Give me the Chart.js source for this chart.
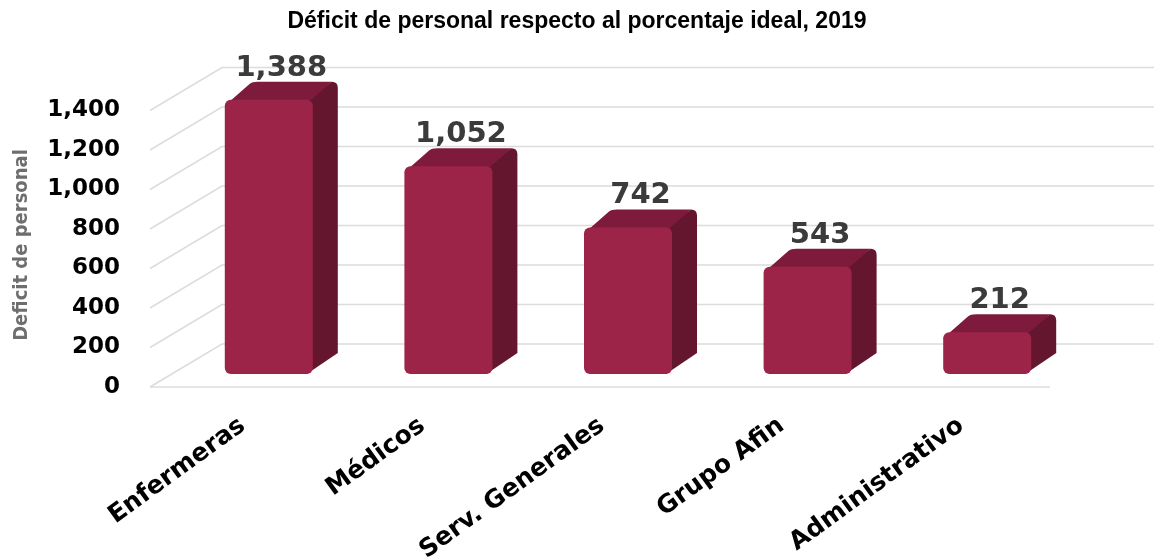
<!DOCTYPE html>
<html>
<head>
<meta charset="utf-8">
<script src="https://cdn.jsdelivr.net/npm/chart.js@4"></script>
<style>
  html, body { margin: 0; padding: 0; background: #fff; }
  #wrap { width: 1154px; height: 558px; }
</style>
</head>
<body>
<div id="wrap"><canvas id="c" width="1154" height="558"></canvas></div>
<script>
// values
const categories = ['Enfermeras', 'Médicos', 'Serv. Generales', 'Grupo Afin', 'Administrativo'];
const deficit = [1388, 1052, 742, 543, 212];
const yTicks = [0, 200, 400, 600, 800, 1000, 1200, 1400];

const FRONT = '#9d2449';
const TOP = '#7e1b3d';
const SIDE = '#64162f';
const DX = 25, DY = -18;      // fake depth of the 3d bars
const LABEL_SHIFT = 13;       // tick labels sit in front of the bars

const fmt = (v) => v.toLocaleString('en-US');

// slanted floor/back grid, drawn from the y scale
const grid3d = {
  id: 'grid3d',
  beforeDatasetsDraw(chart) {
    const { ctx } = chart;
    const y = chart.scales.y;
    ctx.save();
    ctx.strokeStyle = '#dcdcdc';
    ctx.lineWidth = 1.5;
    yTicks.forEach((v) => {
      const yf = y.getPixelForValue(v) + LABEL_SHIFT;
      ctx.beginPath();
      ctx.moveTo(150, yf);
      ctx.lineTo(222, yf - 43);
      ctx.lineTo(chart.width, yf - 43);
      ctx.stroke();
    });
    const y0 = y.getPixelForValue(0) + LABEL_SHIFT;
    ctx.beginPath();
    ctx.moveTo(150, y0);
    ctx.lineTo(1050, y0);
    ctx.stroke();
    ctx.restore();
  }
};

// side + top faces behind the front face, value labels on top
const bars3d = {
  id: 'bars3d',
  beforeDatasetsDraw(chart) {
    const { ctx } = chart;
    const meta = chart.getDatasetMeta(0);
    ctx.save();
    meta.data.forEach((bar) => {
      const l = bar.x - bar.width / 2;
      const r = bar.x + bar.width / 2;
      const t = bar.y;
      const b = bar.base;
      ctx.fillStyle = SIDE;
      ctx.beginPath();
      ctx.moveTo(r - 6, t);
      ctx.lineTo(r + DX - 6, t + DY);
      ctx.quadraticCurveTo(r + DX, t + DY, r + DX, t + DY + 6);
      ctx.lineTo(r + DX, b + DY - 3);
      ctx.lineTo(r - 6, b);
      ctx.closePath();
      ctx.fill();
      ctx.fillStyle = TOP;
      ctx.beginPath();
      ctx.moveTo(l, t + 6);
      ctx.lineTo(l + DX, t + DY + 2);
      ctx.quadraticCurveTo(l + DX + 2, t + DY, l + DX + 8, t + DY);
      ctx.lineTo(r + DX - 6, t + DY);
      ctx.lineTo(r - 4, t + 2);
      ctx.lineTo(r - 6, t + 8);
      ctx.closePath();
      ctx.fill();
    });
    ctx.restore();
  },
  afterDatasetsDraw(chart) {
    const { ctx } = chart;
    const meta = chart.getDatasetMeta(0);
    ctx.save();
    ctx.fillStyle = '#3b3b3b';
    ctx.font = 'bold 29px "DejaVu Sans"';
    ctx.textAlign = 'center';
    ctx.textBaseline = 'alphabetic';
    meta.data.forEach((bar, i) => {
      ctx.fillText(fmt(deficit[i]), bar.x + DX / 2, bar.y + DY - 6);
    });
    ctx.restore();
  },
  afterDraw(chart) {
    const { ctx } = chart;
    ctx.save();
    ctx.translate(22, 245);
    ctx.rotate(-Math.PI / 2);
    ctx.fillStyle = '#6e6e6e';
    ctx.font = '600 20px "Liberation Sans Narrow", "DejaVu Sans Condensed"';
    ctx.textAlign = 'center';
    ctx.textBaseline = 'middle';
    ctx.fillText('Deficit de personal', 0, 0);
    ctx.restore();
  }
};

const ctx = document.getElementById('c').getContext('2d');

const frontFill = (context) => {
  const el = context.element;
  if (!el || el.x === undefined) return FRONT;
  const l = el.x - el.width / 2;
  const g = context.chart.ctx.createLinearGradient(l, 0, l + el.width, 0);
  g.addColorStop(0, '#901f43');
  g.addColorStop(0.35, '#9d2449');
  g.addColorStop(0.85, '#a5274e');
  g.addColorStop(1, '#8c1e42');
  return g;
};

new Chart(ctx, {
  type: 'bar',
  data: {
    labels: categories,
    datasets: [{
      data: deficit,
      backgroundColor: frontFill,
      borderRadius: 6,
      borderSkipped: false,
      barPercentage: 0.49,
      categoryPercentage: 1
    }]
  },
  options: {
    responsive: false,
    animation: false,
    layout: { padding: 0 },
    plugins: {
      legend: { display: false },
      tooltip: { enabled: false },
      title: {
        display: true,
        text: 'Déficit de personal respecto al porcentaje ideal, 2019',
        color: '#000',
        font: { family: '"Liberation Sans", Arial', size: 23, weight: 'bold', lineHeight: 1.2 },
        padding: { top: 7, bottom: 37.4 }
      }
    },
    scales: {
      x: {
        grid: { display: false, drawTicks: false },
        border: { display: false },
        ticks: {
          color: '#000',
          font: { family: '"DejaVu Sans"', size: 25, weight: 'bold' },
          maxRotation: 36,
          minRotation: 36,
          autoSkip: false,
          padding: 37,
          labelOffset: -26
        },
        afterFit(scale) { scale.height = 184; }
      },
      y: {
        min: 0,
        max: 1525,
        grid: { display: false, drawTicks: false },
        border: { display: false },
        afterBuildTicks(scale) { scale.ticks = yTicks.map((v) => ({ value: v })); },
        ticks: {
          color: '#000',
          font: { family: '"DejaVu Sans"', size: 23, weight: 'bold' },
          padding: 59,
          labelOffset: LABEL_SHIFT,
          callback: (v) => fmt(v)
        },
        afterFit(scale) { scale.width = 179; }
      },
      // empty right-hand gutter so the title stays centred on the page
      gutter: {
        type: 'linear',
        position: 'right',
        display: true,
        grid: { display: false, drawTicks: false },
        border: { display: false },
        ticks: { display: false },
        afterFit(scale) { scale.width = 77; }
      }
    }
  },
  plugins: [grid3d, bars3d]
});
</script>
</body>
</html>
